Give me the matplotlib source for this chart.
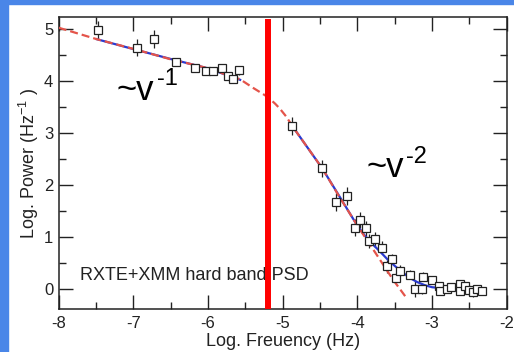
import matplotlib
matplotlib.use("Agg")
import matplotlib.pyplot as plt
from matplotlib.patches import Rectangle
from matplotlib.ticker import MultipleLocator

plt.rcParams['font.family'] = ['Liberation Sans', 'DejaVu Sans']
plt.rcParams['mathtext.fontset'] = 'custom'
plt.rcParams['mathtext.rm'] = 'Liberation Sans'
plt.rcParams['mathtext.it'] = 'Liberation Sans:italic'

# ---- data ----
log_freq = [-7.48, -6.95, -6.73, -6.43, -6.17, -6.03, -5.93, -5.81, -5.73, -5.67, -5.58,
            -4.87, -4.47, -4.28, -4.14, -4.03, -3.96, -3.89, -3.84, -3.76, -3.67,
            -3.60, -3.53, -3.48, -3.43, -3.29, -3.23, -3.14, -3.12, -3.00, -2.91,
            -2.89, -2.80, -2.74, -2.63, -2.63, -2.56, -2.51, -2.45, -2.40, -2.33]
log_power = [4.98, 4.64, 4.80, 4.36, 4.25, 4.19, 4.19, 4.25, 4.09, 4.03, 4.20,
             3.13, 2.32, 1.68, 1.79, 1.18, 1.33, 1.17, 0.93, 0.96, 0.80,
             0.44, 0.58, 0.22, 0.36, 0.28, 0.00, 0.00, 0.24, 0.18, 0.06,
             -0.03, 0.00, 0.05, 0.10, -0.03, 0.06, -0.01, -0.05, 0.00, -0.03]
power_err = [0.17, 0.17, 0.17, 0.06, 0.08, 0.08, 0.08, 0.08, 0.08, 0.08, 0.08,
             0.17, 0.17, 0.17, 0.17, 0.16, 0.15, 0.15, 0.14, 0.14, 0.12,
             0.12, 0.10, 0.10, 0.10, 0.09, 0.15, 0.09, 0.09, 0.08, 0.08,
             0.08, 0.08, 0.08, 0.08, 0.08, 0.08, 0.10, 0.10, 0.08, 0.08]

# dashed broken power-law model
model_f = [-8.0, -7.49, -6.99, -6.49, -5.99, -5.8, -5.57, -5.39, -5.3, -5.2, -5.1,
           -5.04, -4.95, -4.87, -4.47, -4.23, -3.99, -3.74, -3.52, -3.33]
model_p = [5.02, 4.80, 4.61, 4.41, 4.24, 4.14, 4.03, 3.86, 3.78, 3.69, 3.56,
           3.47, 3.31, 3.13, 2.32, 1.75, 1.20, 0.66, 0.18, -0.19]

# blue fit segments
fit_lo_f = [-7.49, -7.0, -6.5, -6.0, -5.57]
fit_lo_p = [4.80, 4.61, 4.42, 4.24, 4.02]
fit_hi_f = [-4.87, -4.47, -4.23, -4.0, -3.9, -3.8, -3.7, -3.6, -3.5, -3.4, -3.3,
            -3.2, -3.1, -3.0, -2.8, -2.6, -2.37]
fit_hi_p = [3.13, 2.32, 1.76, 1.22, 1.03, 0.87, 0.73, 0.58, 0.45, 0.33, 0.22,
            0.14, 0.08, 0.04, 0.01, -0.01, -0.02]

break_freq = -5.2

x_ticks = [-8, -7, -6, -5, -4, -3, -2]
x_tick_labels = ['-8', '-7', '-6', '-5', '-4', '-3', '-2']
y_ticks = [0, 1, 2, 3, 4, 5]
y_tick_labels = ['0', '1', '2', '3', '4', '5']

fig = plt.figure(figsize=(5.14, 3.52), dpi=100)
fig.patch.set_facecolor('white')
ax = fig.add_axes([58.7/514, 1 - 309.3/352, 448/514, 292/352])

ax.errorbar(log_freq, log_power, yerr=power_err, fmt='none', ecolor='#222222',
            elinewidth=0.9, capsize=0, zorder=2)
ax.plot(fit_lo_f, fit_lo_p, color='#2a3ad0', lw=1.6, zorder=3)
ax.plot(fit_hi_f, fit_hi_p, color='#2a3ad0', lw=1.6, zorder=3)
ax.plot(model_f, model_p, color='#e4544a', lw=1.6, ls=(0, (3.6, 1.8)), zorder=4)
ax.plot(log_freq, log_power, ls='none', marker='s', ms=6.0, mfc='white',
        mec='#222222', mew=0.9, zorder=5)

ax.text(-7.71, 0.18, 'RXTE+XMM hard band PSD', fontsize=13, color='#222222', zorder=6)
ax.axvline(break_freq, ymin=0.0, ymax=0.985, color='#ff0000', lw=4.3, zorder=7)

ax.text(-7.223, 3.634, '~v', fontsize=25, color='black')
ax.annotate('-1', xy=(-7.223, 3.634), xytext=(28.8, 10.8), textcoords='offset points',
            fontsize=17, color='black')
ax.text(-3.875, 2.16, '~v', fontsize=25, color='black')
ax.annotate('-2', xy=(-3.875, 2.16), xytext=(28.3, 10.1), textcoords='offset points',
            fontsize=17, color='black')

ax.set_xlim(-8, -2)
ax.set_ylim(-0.384, 5.22)
ax.set_xticks(x_ticks)
ax.set_xticklabels(x_tick_labels)
ax.set_yticks(y_ticks)
ax.set_yticklabels(y_tick_labels)
ax.xaxis.set_minor_locator(MultipleLocator(0.5))
ax.yaxis.set_minor_locator(MultipleLocator(0.5))
ax.tick_params(which='both', direction='in', top=True, right=True, colors='#222222',
               labelsize=12, width=1.0)
ax.tick_params(which='major', length=10)
ax.tick_params(which='minor', length=5)
ax.tick_params(axis='x', pad=5)
ax.tick_params(axis='y', pad=4)
for s in ax.spines.values():
    s.set_linewidth(1.1)
    s.set_color('#222222')

ax.set_xlabel('Log. Freuency (Hz)', fontsize=13, color='#222222', labelpad=1)
ax.set_ylabel(r'Log. Power (Hz$^{\mathrm{-1}}$ )', fontsize=13, color='#222222', labelpad=2)

fig.patches.append(Rectangle((0, 1 - 4/352), 1, 4/352, transform=fig.transFigure,
                             color='#4a86e8', zorder=10))
fig.patches.append(Rectangle((0, 0), 7.5/514, 1, transform=fig.transFigure,
                             color='#4a86e8', zorder=10))

fig.savefig('out.png', dpi=100)
